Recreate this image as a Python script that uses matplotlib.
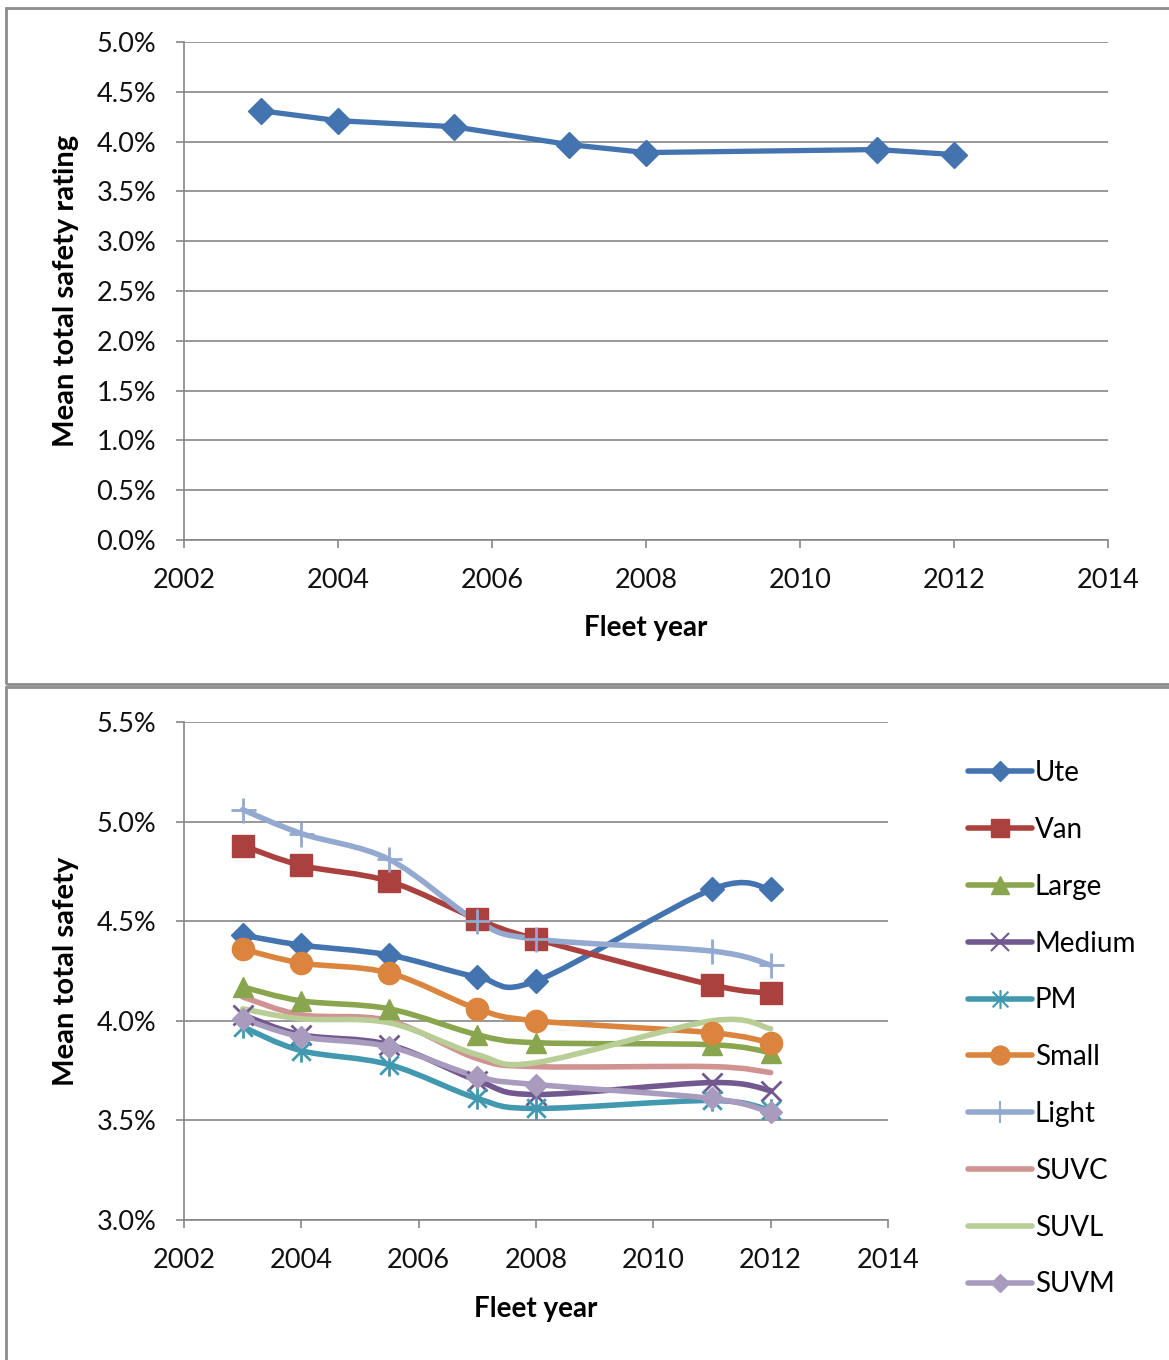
import numpy as np
import matplotlib
matplotlib.use('Agg')
import matplotlib.pyplot as plt
from matplotlib.path import Path
from matplotlib.patches import PathPatch, Rectangle
from matplotlib.lines import Line2D
from matplotlib.ticker import FuncFormatter

plt.rcParams['font.family'] = ['Lato', 'DejaVu Sans']

# ------------ Data ---------------
years = [2003, 2004, 2005.5, 2007, 2008, 2011, 2012]

# top chart: overall fleet
overall = [4.31, 4.21, 4.15, 3.97, 3.89, 3.92, 3.87]

# bottom chart: by vehicle class
classes = ['Ute', 'Van', 'Large', 'Medium', 'PM', 'Small', 'Light', 'SUVC', 'SUVL', 'SUVM']
ute    = [4.43, 4.38, 4.33, 4.22, 4.20, 4.66, 4.66]
van    = [4.88, 4.78, 4.70, 4.51, 4.41, 4.18, 4.14]
large  = [4.17, 4.10, 4.06, 3.93, 3.89, 3.88, 3.84]
medium = [4.03, 3.93, 3.88, 3.70, 3.63, 3.69, 3.65]
pm     = [3.97, 3.85, 3.78, 3.61, 3.56, 3.60, 3.55]
small  = [4.36, 4.29, 4.24, 4.06, 4.00, 3.94, 3.89]
light  = [5.06, 4.94, 4.81, 4.50, 4.41, 4.35, 4.28]
suvc   = [4.12, 4.03, 4.00, 3.81, 3.77, 3.77, 3.74]
suvl   = [4.06, 4.01, 3.99, 3.83, 3.79, 4.00, 3.96]
suvm   = [4.01, 3.92, 3.87, 3.72, 3.68, 3.61, 3.54]
series = [ute, van, large, medium, pm, small, light, suvc, suvl, suvm]

# ------------ Styles ---------------
# Excel-style asterisk: an x with a vertical bar through it
asterisk = Path([(-0.5, -0.5), (0.5, 0.5), (-0.5, 0.5), (0.5, -0.5), (0, -0.6), (0, 0.6)],
                [Path.MOVETO, Path.LINETO] * 3)
colors = ['#4374B0', '#AA413F', '#89A54E', '#71588F', '#4198AF',
          '#DB843D', '#93A9CF', '#D19392', '#B9CD96', '#A99BBD']
markers = ['D', 's', '^', 'x', asterisk, 'o', '+', None, None, 'D']
msizes = [12, 16, 15, 15, 16, 16, 18, 0, 0, 11]
thin_markers = [False, False, False, True, True, False, True, False, False, False]
grid_c = '#868686'
W, H = 1169, 1360


def smooth_path(xs, ys):
    # Excel-like smoothed line: Catmull-Rom as cubic Bezier segments
    pts = np.column_stack([xs, ys]).astype(float)
    n = len(pts)
    verts = [pts[0]]
    codes = [Path.MOVETO]
    for i in range(n - 1):
        p0 = pts[i - 1] if i > 0 else pts[i]
        p1 = pts[i]
        p2 = pts[i + 1]
        p3 = pts[i + 2] if i + 2 < n else pts[i + 1]
        verts += [p1 + (p2 - p0) / 6, p2 - (p3 - p1) / 6, p2]
        codes += [Path.CURVE4] * 3
    return Path(verts, codes)


def style_axes(ax, yticks):
    ax.set_xlim(2002, 2014)
    ax.set_xticks(range(2002, 2015, 2))
    ax.set_ylim(yticks[0], yticks[-1])
    ax.set_yticks(yticks)
    ax.yaxis.set_major_formatter(FuncFormatter(lambda v, p: '%.1f%%' % v))
    ax.grid(axis='y', color=grid_c, lw=1.2)
    ax.set_axisbelow(True)
    for s in ['top', 'right']:
        ax.spines[s].set_visible(False)
    for s in ['left', 'bottom']:
        ax.spines[s].set_color(grid_c)
        ax.spines[s].set_linewidth(1.2)
    ax.tick_params(axis='both', direction='out', length=6, width=1.2,
                   color=grid_c, labelsize=19.5, labelcolor='#111111')
    ax.tick_params(axis='y', pad=14)
    ax.tick_params(axis='x', pad=14)


fig = plt.figure(figsize=(W / 100, H / 100), dpi=100)

# panel frames
fig.patches.append(Rectangle((6 / W, 1 - 684 / H), 1.2, (684 - 8) / H,
                             transform=fig.transFigure, fill=False,
                             edgecolor='#8C8C8C', lw=2))
fig.patches.append(Rectangle((6 / W, -0.05), 1.2, 0.05 + (H - 687) / H,
                             transform=fig.transFigure, fill=False,
                             edgecolor='#8C8C8C', lw=2))

# ------------ Top chart ---------------
ax1 = fig.add_axes([184 / W, 1 - 540 / H, 924 / W, 498 / H])
ax1.plot(years, overall, color=colors[0], lw=3.8, marker='D', ms=13,
         clip_on=False)
style_axes(ax1, np.arange(0, 5.01, 0.5))
ax1.set_xlabel('Fleet year', fontsize=20, fontweight='bold')
ax1.set_ylabel('Mean total safety rating', fontsize=21, fontweight='bold')
ax1.xaxis.label.set_va('center')
ax1.yaxis.label.set_va('center')
ax1.xaxis.set_label_coords(0.5, (540 - 628) / 498)
ax1.yaxis.set_label_coords((66 - 184) / 924, 0.5)

# ------------ Bottom chart ---------------
ax2 = fig.add_axes([184 / W, 1 - 1220 / H, 704 / W, 498 / H])
handles = []
for name, vals, c, m, ms, thin in zip(classes, series, colors, markers, msizes, thin_markers):
    ax2.add_patch(PathPatch(smooth_path(years, vals), fill=False, edgecolor=c,
                            lw=4, capstyle='round', joinstyle='round'))
    if m is not None:
        ax2.plot(years, vals, linestyle='none', marker=m, ms=ms, color=c,
                 mew=2 if thin else 1, clip_on=False)
    handles.append(Line2D([], [], color=c, lw=4, marker=m, ms=ms * 0.85,
                          mew=1.5 if thin else 1, solid_capstyle='round'))
style_axes(ax2, np.arange(3.0, 5.51, 0.5))
ax2.set_xlabel('Fleet year', fontsize=20, fontweight='bold')
ax2.set_ylabel('Mean total safety', fontsize=21, fontweight='bold')
ax2.xaxis.label.set_va('center')
ax2.yaxis.label.set_va('center')
ax2.xaxis.set_label_coords(0.5, (1220 - 1309) / 498)
ax2.yaxis.set_label_coords((66 - 184) / 704, 0.5)

fig.legend(handles, classes, loc='upper left',
           bbox_to_anchor=(968 / W, 1 - 760 / H), frameon=False,
           fontsize=20, handlelength=2.3, handletextpad=0.1,
           labelspacing=1.11, borderpad=0, borderaxespad=0)

fig.savefig('out.png', dpi=100)
